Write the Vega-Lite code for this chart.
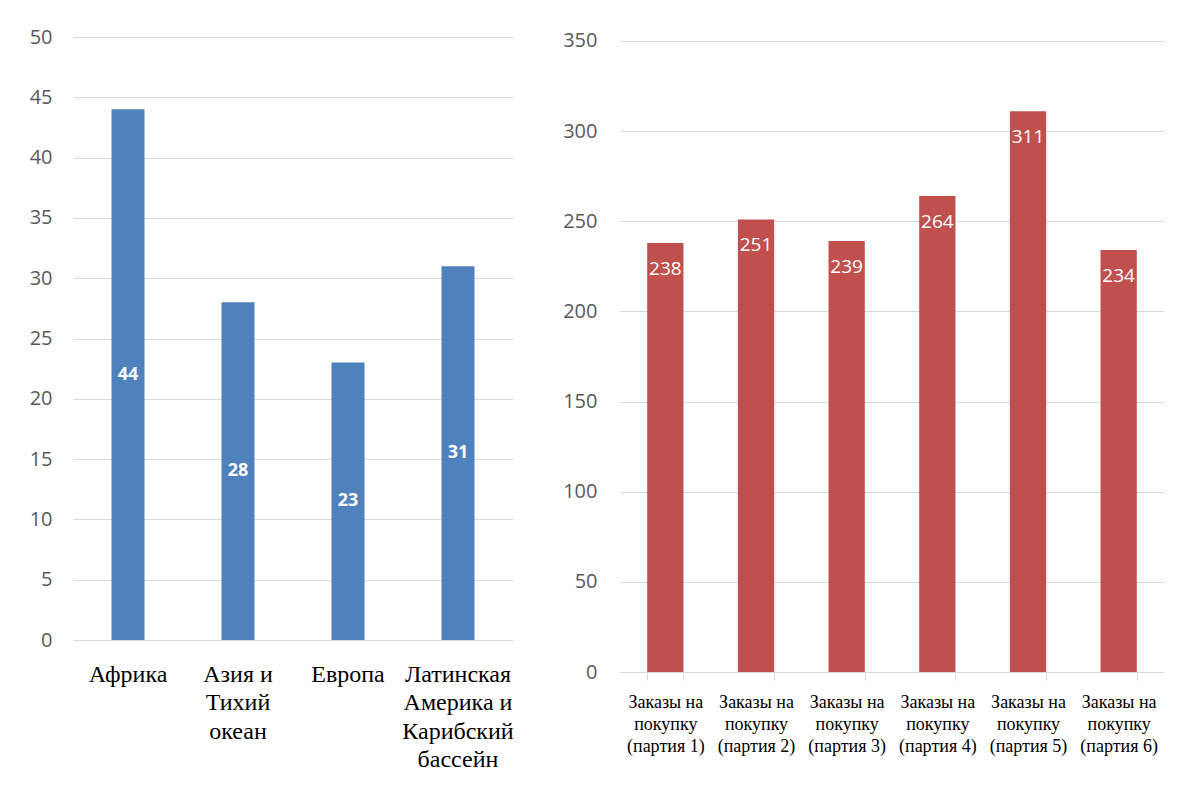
{
  "$schema": "https://vega.github.io/schema/vega-lite/v6.json",
  "padding": {"left": 29, "top": 27, "right": 0, "bottom": 0},
  "background": "white",
  "config": {
    "view": {"stroke": null},
    "axis": {"labelFont": "Open Sans", "labelColor": "#595959", "title": null}
  },
  "spacing": 48,
  "hconcat": [
    {
      "width": 440,
      "height": 603,
      "data": {"values": [
        {"region": "Африка", "value": 44},
        {"region": "Азия и|Тихий|океан", "value": 28},
        {"region": "Европа", "value": 23},
        {"region": "Латинская|Америка и|Карибский|бассейн", "value": 31}
      ]},
      "encoding": {
        "x": {
          "field": "region", "type": "nominal", "sort": null,
          "scale": {"paddingInner": 0.7, "paddingOuter": 0.35},
          "axis": {
            "labelAngle": 0, "domain": false, "ticks": false,
            "labelFont": "Liberation Serif", "labelFontSize": 24, "labelColor": "#000000",
            "labelPadding": 22, "labelLineHeight": 28.5, "labelBaseline": "top",
            "labelExpr": "split(datum.label, '|')", "labelLimit": 200
          }
        }
      },
      "layer": [
        {
          "mark": {"type": "bar", "color": "#4F81BD"},
          "encoding": {
            "y": {
              "field": "value", "type": "quantitative",
              "scale": {"domain": [0, 50], "nice": false},
              "axis": {
                "values": [0, 5, 10, 15, 20, 25, 30, 35, 40, 45, 50],
                "domain": false, "ticks": false, "gridColor": "#d9d9d9",
                "labelFontSize": 20, "labelPadding": 21
              }
            }
          }
        },
        {
          "mark": {"type": "text", "color": "white", "font": "Open Sans", "fontWeight": "bold", "fontSize": 18, "baseline": "middle"},
          "encoding": {
            "y": {"field": "value", "type": "quantitative", "scale": {"domain": [0, 100], "nice": false}, "axis": null},
            "text": {"field": "value", "type": "quantitative"}
          }
        }
      ],
      "resolve": {"scale": {"y": "independent"}}
    },
    {
      "width": 544,
      "height": 635,
      "data": {"values": [
        {"batch": "Заказы на|покупку|(партия 1)", "value": 238},
        {"batch": "Заказы на|покупку|(партия 2)", "value": 251},
        {"batch": "Заказы на|покупку|(партия 3)", "value": 239},
        {"batch": "Заказы на|покупку|(партия 4)", "value": 264},
        {"batch": "Заказы на|покупку|(партия 5)", "value": 311},
        {"batch": "Заказы на|покупку|(партия 6)", "value": 234}
      ]},
      "encoding": {
        "x": {
          "field": "batch", "type": "nominal", "sort": null,
          "scale": {"paddingInner": 0.6, "paddingOuter": 0.3},
          "axis": {
            "labelAngle": 0, "domain": true, "domainColor": "#d9d9d9",
            "ticks": true, "tickColor": "#d9d9d9", "tickSize": 8, "tickBand": "extent",
            "labelFont": "Liberation Serif", "labelFontSize": 18, "labelColor": "#000000",
            "labelPadding": 13, "labelLineHeight": 22, "labelBaseline": "top",
            "labelExpr": "split(datum.label, '|')", "labelLimit": 200
          }
        }
      },
      "layer": [
        {
          "mark": {"type": "bar", "color": "#C0504D"},
          "encoding": {
            "y": {
              "field": "value", "type": "quantitative",
              "scale": {"domain": [0, 352.2], "nice": false},
              "axis": {
                "values": [0, 50, 100, 150, 200, 250, 300, 350],
                "domain": false, "ticks": false, "gridColor": "#d9d9d9",
                "labelFontSize": 20, "labelPadding": 23
              }
            }
          }
        },
        {
          "mark": {"type": "text", "color": "white", "font": "Open Sans", "fontSize": 19, "baseline": "middle", "dy": 26},
          "encoding": {
            "y": {"field": "value", "type": "quantitative"},
            "text": {"field": "value", "type": "quantitative"}
          }
        }
      ]
    }
  ]
}
